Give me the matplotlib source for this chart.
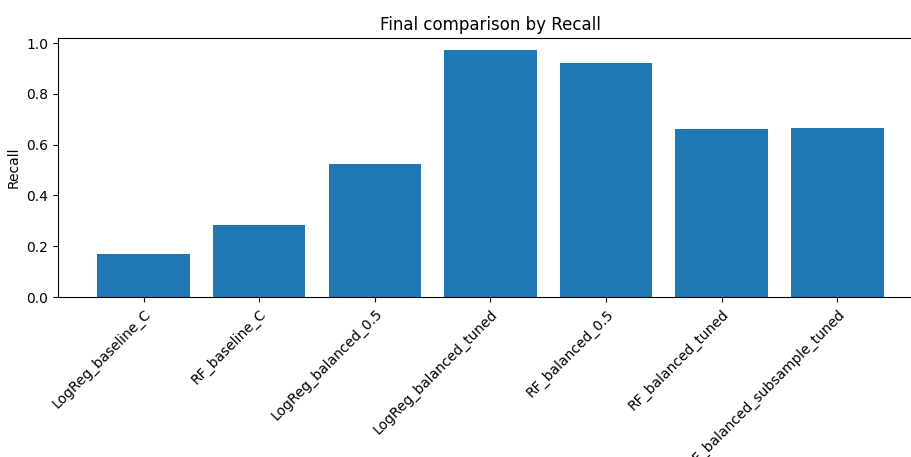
import matplotlib
matplotlib.use("Agg")
import matplotlib.pyplot as plt

# model names and recall values
models = [
    "LogReg_baseline_C",
    "RF_baseline_C",
    "LogReg_balanced_0.5",
    "LogReg_balanced_tuned",
    "RF_balanced_0.5",
    "RF_balanced_tuned",
    "RF_balanced_subsample_tuned",
]
recall = [0.168, 0.284, 0.526, 0.972, 0.921, 0.661, 0.667]

fig, ax = plt.subplots(figsize=(9.12, 4.57), dpi=100)
ax.bar(models, recall, color="#1f77b4")
ax.set_ylabel("Recall")
ax.set_title("Final comparison by Recall")
plt.setp(ax.get_xticklabels(), rotation=45, ha="right", rotation_mode="anchor")
# the reference image is cropped on the right, so the axes runs past the edge
fig.subplots_adjust(left=0.0636, right=1.012, top=0.917, bottom=0.35)
fig.savefig("out.png", dpi=100)
